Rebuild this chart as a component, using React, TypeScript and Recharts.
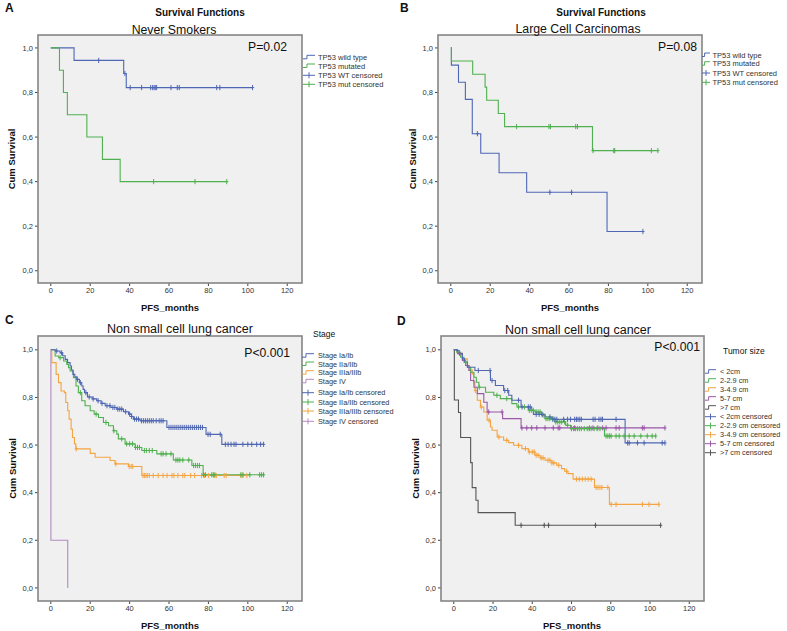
import React from 'react';
import { ComposedChart, Line, Scatter, XAxis, YAxis, CartesianGrid } from 'recharts';

type Pt = [number, number];

// ---------- Panel A: Never Smokers ----------
const aWildTypeSteps: Pt[] = [[0, 1], [11.8, 0.944], [37.0, 0.885], [38.3, 0.822], [102.4, 0.822]];
const aWildTypeCensored = [24.3, 37.6, 40.3, 46.1, 50.7, 51.7, 52.4, 53.0, 53.7, 61.0, 64.2, 65.2, 84.2, 85.8, 102.4];
const aMutatedSteps: Pt[] = [[0, 1], [4.4, 0.9], [6.4, 0.8], [8.4, 0.7], [18.3, 0.6], [26.2, 0.5], [35.2, 0.4], [89.3, 0.4]];
const aMutatedCensored = [52.2, 73.2, 89.3];

// ---------- Panel B: Large Cell Carcinomas ----------
const bWildTypeSteps: Pt[] = [[0, 1], [0.3, 0.923], [3.9, 0.846], [7.4, 0.769], [10.9, 0.615], [15.2, 0.527], [24.5, 0.44], [38.5, 0.352], [79.3, 0.176], [97.5, 0.176]];
const bWildTypeCensored = [13.5, 50.3, 61.3, 97.5];
const bMutatedSteps: Pt[] = [[0, 1], [0.3, 0.941], [11.1, 0.882], [17.4, 0.824], [18.2, 0.765], [24.1, 0.706], [27.3, 0.647], [71.9, 0.539], [105.1, 0.539]];
const bMutatedCensored = [33.4, 49.8, 50.6, 63.4, 64.3, 72.2, 82.7, 83.2, 101.8, 105.1];

// ---------- Panel C: NSCLC by stage ----------
const cStage1Steps: Pt[] = [[0, 1], [2.2, 0.995], [4.7, 0.987], [6, 0.975], [7.3, 0.96], [8.5, 0.946], [9.8, 0.932], [10.5, 0.915], [11.2, 0.897], [12.2, 0.887], [13.2, 0.876], [14.5, 0.862], [15.7, 0.848], [16.4, 0.834], [17.1, 0.82], [18.6, 0.802], [21, 0.794], [23.3, 0.786], [25.5, 0.775], [27.6, 0.765], [30.5, 0.758], [33.5, 0.751], [36.9, 0.74], [39.4, 0.73], [41, 0.72], [41.9, 0.709], [45.3, 0.702], [58.9, 0.674], [78.8, 0.645], [86.8, 0.603], [108, 0.603]];
const cStage1Censored = [3, 5.5, 13.5, 15, 17.8, 19.5, 21.5, 24, 26, 28.5, 30, 31.5, 32.5, 34, 35, 36, 38, 40, 41, 42.5, 43.5, 44.5, 46, 47, 48, 49, 50, 51, 52, 53.5, 55, 56, 57, 60, 61, 62, 63, 64, 65, 66, 67, 68, 69, 70, 71, 72, 73, 74, 75, 76, 77, 79.8, 80.9, 86, 88.6, 90, 91.5, 93, 94, 97.5, 100, 102, 104.5, 106.5, 108];
const cStage2Steps: Pt[] = [[0, 1], [2.2, 0.974], [4, 0.967], [6.5, 0.953], [8.1, 0.939], [9, 0.925], [9.8, 0.911], [11.5, 0.883], [12.8, 0.848], [14, 0.82], [15.7, 0.786], [17.4, 0.765], [20, 0.744], [22, 0.73], [24.2, 0.716], [26.7, 0.695], [29.3, 0.681], [31.8, 0.66], [33.5, 0.646], [34.3, 0.626], [37.7, 0.605], [42.8, 0.59], [46.2, 0.577], [53.8, 0.563], [62.2, 0.537], [71.6, 0.514], [77.3, 0.475], [108, 0.475]];
const cStage2Censored = [4.7, 15, 23, 28, 32, 36, 38.5, 40, 41.5, 43, 44, 45, 47.5, 48.5, 50, 51.5, 56, 57, 58.5, 61, 63.5, 64.5, 65.5, 67, 70, 72.5, 73.5, 74.5, 75.5, 77.5, 78.5, 81.7, 82.5, 83.3, 96.5, 97.5, 101, 106, 107, 108];
const cStage3Steps: Pt[] = [[0, 1], [0.5, 0.946], [2.7, 0.897], [3.9, 0.862], [5.2, 0.827], [6.9, 0.82], [7.6, 0.779], [8.6, 0.744], [9.3, 0.709], [10.3, 0.667], [11, 0.632], [12, 0.605], [12.7, 0.584], [20, 0.565], [22.5, 0.549], [30.1, 0.535], [32.6, 0.521], [39.4, 0.51], [46.2, 0.472], [99.5, 0.472]];
const cStage3Censored = [12.9, 33, 39.8, 40.8, 41.6, 46.8, 47.5, 48.3, 49, 50, 52, 54.5, 57, 59, 61.5, 62.5, 64.5, 67, 68, 71, 73, 76.5, 78, 80, 83, 84, 88, 89, 96.5, 97.5, 99.5];
const cStage4Steps: Pt[] = [[0, 1], [0.05, 0.2], [8.6, 0]];
const cStage4Censored: number[] = [];

// ---------- Panel D: NSCLC by tumor size ----------
const dLt2Steps: Pt[] = [[0, 1], [1.5, 0.997], [2.7, 0.983], [4.4, 0.962], [5.5, 0.948], [6.9, 0.927], [10.8, 0.913], [18.7, 0.871], [21.2, 0.85], [25.4, 0.829], [28, 0.809], [29.6, 0.788], [34.3, 0.76], [39.7, 0.746], [40.6, 0.729], [46.5, 0.718], [50, 0.708], [87.3, 0.609], [107.6, 0.609]];
const dLt2Censored = [12.5, 18.5, 19.5, 26, 27.5, 33, 34.8, 38, 39, 42, 43.5, 45, 49, 50.5, 51.5, 52.5, 56, 58, 59.5, 61.6, 62.5, 63.3, 64.2, 65, 71, 72, 74, 75, 75.8, 82.7, 88.6, 89.4, 93.6, 97, 106.2, 107.6];
const d2to3Steps: Pt[] = [[0, 1], [1.5, 0.99], [3.5, 0.969], [5.2, 0.948], [7, 0.927], [8.6, 0.906], [10.3, 0.885], [11.5, 0.864], [12.8, 0.843], [16.2, 0.822], [20.4, 0.809], [23.7, 0.795], [29.6, 0.774], [32.2, 0.76], [38, 0.746], [41.4, 0.739], [44.8, 0.725], [46.5, 0.711], [51.5, 0.697], [57, 0.683], [59.5, 0.669], [76.8, 0.638], [102.9, 0.638]];
const d2to3Censored = [6, 13, 22, 27, 33, 36, 38.5, 39.5, 40.5, 42, 43, 44, 45.5, 47, 48, 49, 50.5, 52, 53, 54, 55, 56.5, 58, 60, 61, 62, 63, 64, 65, 66.5, 68, 69, 70, 71.5, 73, 74.5, 77.6, 78.5, 79.4, 80.2, 82.7, 84.3, 86.8, 89.4, 91.9, 95.3, 98.6, 101.1, 102.9];
const d3to5Steps: Pt[] = [[0, 1], [1.9, 0.983], [4.4, 0.962], [6.9, 0.934], [8, 0.916], [9.4, 0.899], [10.1, 0.864], [10.8, 0.829], [12, 0.788], [13.6, 0.76], [15.3, 0.739], [17, 0.704], [18.7, 0.676], [19.5, 0.662], [22.1, 0.634], [25.4, 0.62], [28, 0.61], [30.5, 0.599], [34.7, 0.585], [38, 0.571], [41.4, 0.557], [44, 0.546], [46.5, 0.536], [50, 0.525], [52.4, 0.515], [54.9, 0.501], [56.5, 0.49], [58.2, 0.48], [60.8, 0.457], [71.7, 0.422], [79.3, 0.351], [104.5, 0.351]];
const d3to5Censored = [11, 14, 18, 23, 27, 33, 36.5, 38.5, 40, 41, 42, 43, 44.5, 45.5, 48, 49, 50, 51, 53.5, 57.5, 62.5, 64, 65.5, 67, 68.5, 70, 72.5, 73.5, 74.5, 75.5, 78.5, 80.2, 82.7, 96.1, 99.5, 104.5];
const d5to7Steps: Pt[] = [[0, 1], [2, 0.985], [4.4, 0.955], [6, 0.934], [7.7, 0.913], [8.6, 0.871], [10.3, 0.843], [12, 0.816], [15.3, 0.78], [17, 0.739], [24.9, 0.711], [34.3, 0.672], [107.6, 0.672]];
const d5to7Censored = [3, 17.8, 24.6, 34.7, 37.2, 39.7, 42.3, 46.5, 50.7, 53.2, 54, 59.9, 61.6, 69.2, 70.9, 73.4, 75.9, 77.6, 82.7, 84.3, 96.1, 97, 107.6];
const dGt7Steps: Pt[] = [[0, 1], [0.3, 0.789], [2.4, 0.737], [3.5, 0.632], [8.6, 0.526], [9.4, 0.421], [11.3, 0.368], [12.4, 0.316], [31.3, 0.263], [105.4, 0.263]];
const dGt7Censored = [34.3, 46.1, 48.3, 72.2, 105.4];

// ---------- Axes ----------
const xTicks = [0, 20, 40, 60, 80, 100, 120];
const yTicks = [0, 0.2, 0.4, 0.6, 0.8, 1.0];

// ---------- Legend labels ----------
const aLegendLabels = ['TP53 wild type', 'TP53 mutated', 'TP53 WT censored', 'TP53 mut censored'];
const cLegendLabels = ['Stage Ia/Ib', 'Stage IIa/IIb', 'Stage IIIa/IIIb', 'Stage IV', 'Stage Ia/Ib censored', 'Stage IIa/IIb censored', 'Stage IIIa/IIIb censored', 'Stage IV censored'];
const dLegendLabels = ['< 2cm', '2-2.9 cm', '3-4.9 cm', '5-7 cm', '>7 cm', '< 2cm censored', '2-2.9 cm censored', '3-4.9 cm censored', '5-7 cm censored', '>7 cm censored'];

const BLUE = '#4f67b3';
const GREEN = '#4fb04f';
const ORANGE = '#f4a441';
const PURPLE = '#9b57a8';
const LAVENDER = '#b489c0';
const GRAY = '#555555';
const FONT = '"Liberation Sans", Arial, sans-serif';

interface Series { name: string; color: string; steps: Pt[]; censored: number[] }

function survAt(steps: Pt[], t: number): number {
  let s = steps[0][1];
  for (const [ti, si] of steps) {
    if (ti <= t) s = si; else break;
  }
  return s;
}
const toRows = (steps: Pt[]) => steps.map(([t, s]) => ({ t, s }));
const censorRows = (steps: Pt[], times: number[]) => times.map((t) => ({ t, s: survAt(steps, t) }));
const fmt = (v: number) => v.toFixed(1).replace('.', ',');

const CensorMark = (props: any) => {
  const { cx, cy, color } = props;
  if (cx == null || cy == null) return null;
  return <path d={`M${cx - 1.6},${cy}H${cx + 1.6}M${cx},${cy - 2.6}V${cy + 2.6}`} stroke={color} strokeWidth={1} fill="none" />;
};

interface PanelProps {
  left: number; top: number; width: number; height: number;
  margin: { top: number; right: number; bottom: number; left: number };
  yAxisWidth: number; series: Series[];
}

function KMPanel({ left, top, width, height, margin, yAxisWidth, series }: PanelProps) {
  return (
    <div style={{ position: 'absolute', left, top, width, height, fontFamily: FONT }}>
      <ComposedChart width={width} height={height} margin={margin}>
        <CartesianGrid fill="#f0f0f0" horizontal={false} vertical={false} stroke="none" />
        <XAxis dataKey="t" type="number" domain={[-6.5, 127.5]} ticks={xTicks} allowDataOverflow interval={0}
          axisLine={false} tickLine={{ stroke: '#444' }} tickSize={3} tickMargin={2}
          tick={{ fontSize: 7.5, fill: '#333' }} height={20} />
        <YAxis dataKey="s" type="number" domain={[-0.055, 1.058]} ticks={yTicks} allowDataOverflow interval={0}
          axisLine={false} tickLine={{ stroke: '#444' }} tickSize={3} tickMargin={2}
          tick={{ fontSize: 7.5, fill: '#333' }} width={yAxisWidth} tickFormatter={fmt} />
        {series.map((s) => (
          <Line key={s.name} name={s.name} data={toRows(s.steps)} dataKey="s" type="stepAfter" stroke={s.color}
            strokeWidth={1.1} dot={false} activeDot={false} isAnimationActive={false} />
        ))}
        {series.map((s) => (
          <Scatter key={s.name + '-c'} name={s.name + ' censored'} data={censorRows(s.steps, s.censored)} dataKey="s"
            shape={(p: any) => <CensorMark {...p} color={s.color} />} isAnimationActive={false} />
        ))}
      </ComposedChart>
    </div>
  );
}

const seriesA: Series[] = [
  { name: 'wt', color: BLUE, steps: aWildTypeSteps, censored: aWildTypeCensored },
  { name: 'mut', color: GREEN, steps: aMutatedSteps, censored: aMutatedCensored },
];
const seriesB: Series[] = [
  { name: 'wt', color: BLUE, steps: bWildTypeSteps, censored: bWildTypeCensored },
  { name: 'mut', color: GREEN, steps: bMutatedSteps, censored: bMutatedCensored },
];
const seriesC: Series[] = [
  { name: 's4', color: LAVENDER, steps: cStage4Steps, censored: cStage4Censored },
  { name: 's3', color: ORANGE, steps: cStage3Steps, censored: cStage3Censored },
  { name: 's2', color: GREEN, steps: cStage2Steps, censored: cStage2Censored },
  { name: 's1', color: BLUE, steps: cStage1Steps, censored: cStage1Censored },
];
const seriesD: Series[] = [
  { name: 'gt7', color: GRAY, steps: dGt7Steps, censored: dGt7Censored },
  { name: '3to5', color: ORANGE, steps: d3to5Steps, censored: d3to5Censored },
  { name: '5to7', color: PURPLE, steps: d5to7Steps, censored: d5to7Censored },
  { name: '2to3', color: GREEN, steps: d2to3Steps, censored: d2to3Censored },
  { name: 'lt2', color: BLUE, steps: dLt2Steps, censored: dLt2Censored },
];

function LegendBlock({ x0, w, textX, ys, labels, colors, nLines, size }: { x0: number; w: number; textX: number; ys: number[]; labels: string[]; colors: string[]; nLines: number; size: number }) {
  return (
    <g>
      {labels.map((lab, i) => {
        const y = ys[i];
        const c = colors[i];
        const isLine = i < nLines;
        const d = isLine
          ? `M${x0},${y + 1.5}H${x0 + w * 0.33}V${y - 2}H${x0 + w}`
          : `M${x0},${y}H${x0 + w}M${x0 + w / 2},${y - 3}V${y + 3}`;
        return (
          <g key={lab}>
            <path d={d} stroke={c} strokeWidth={1} fill="none" />
            <text x={textX} y={y} fontSize={size} fill="#333" dominantBaseline="central">{lab}</text>
          </g>
        );
      })}
    </g>
  );
}

const T = ({ x, y, size, bold, anchor, rotate, children }: any) => (
  <text x={x} y={y} fontSize={size} fontWeight={bold ? 'bold' : 'normal'} textAnchor={anchor || 'start'}
    dominantBaseline="central" fill="#111" transform={rotate ? `rotate(-90 ${x} ${y})` : undefined}>{children}</text>
);

export default function App() {
  return (
    <div style={{ position: 'absolute', left: 0, top: 0, width: 787, height: 631, background: '#fff', fontFamily: FONT, overflow: 'hidden' }}>
      <KMPanel left={0} top={0} width={390} height={315} margin={{ top: 35, right: 88, bottom: 12, left: 0 }} yAxisWidth={38} series={seriesA} />
      <KMPanel left={400} top={0} width={387} height={315} margin={{ top: 35, right: 85, bottom: 12, left: 0 }} yAxisWidth={38} series={seriesB} />
      <KMPanel left={0} top={315} width={390} height={316} margin={{ top: 21, right: 88, bottom: 10, left: 0 }} yAxisWidth={38} series={seriesC} />
      <KMPanel left={400} top={315} width={387} height={316} margin={{ top: 21, right: 83, bottom: 10, left: 0 }} yAxisWidth={41} series={seriesD} />
      <svg width={787} height={631} style={{ position: 'absolute', left: 0, top: 0, pointerEvents: 'none', fontFamily: FONT }}>
        <rect x={38} y={35} width={264} height={248} fill="none" stroke="#858585" strokeWidth={1.6} />
        <rect x={438} y={35} width={264} height={248} fill="none" stroke="#858585" strokeWidth={1.6} />
        <rect x={38} y={336} width={264} height={265} fill="none" stroke="#858585" strokeWidth={1.6} />
        <rect x={441} y={336} width={263} height={265} fill="none" stroke="#858585" strokeWidth={1.6} />

        <T x={5} y={7.5} size={12} bold>A</T>
        <T x={200} y={12} size={10} bold anchor="middle">Survival Functions</T>
        <T x={174} y={29.7} size={12.3} anchor="middle">Never Smokers</T>
        <T x={287} y={47} size={12.2} anchor="end">P=0.02</T>
        <T x={170} y={307} size={9.5} bold anchor="middle">PFS_months</T>
        <T x={11.7} y={159} size={9.5} bold anchor="middle" rotate>Cum Survival</T>

        <T x={400} y={7.5} size={12} bold>B</T>
        <T x={601} y={12} size={10} bold anchor="middle">Survival Functions</T>
        <T x={578} y={29} size={12.3} anchor="middle">Large Cell Carcinomas</T>
        <T x={697} y={47} size={12.2} anchor="end">P=0.08</T>
        <T x={570} y={307} size={9.5} bold anchor="middle">PFS_months</T>
        <T x={412} y={159} size={9.5} bold anchor="middle" rotate>Cum Survival</T>

        <T x={5} y={320} size={12} bold>C</T>
        <T x={180} y={329} size={12.5} anchor="middle">Non small cell lung cancer</T>
        <T x={290} y={353} size={12.2} anchor="end">P&lt;0.001</T>
        <T x={170} y={625.5} size={9.5} bold anchor="middle">PFS_months</T>
        <T x={12} y={468.5} size={9.5} bold anchor="middle" rotate>Cum Survival</T>
        <T x={313} y={334} size={8.5}>Stage</T>

        <T x={397} y={321} size={12} bold>D</T>
        <T x={578} y={329.5} size={12.5} anchor="middle">Non small cell lung cancer</T>
        <T x={700} y={346.7} size={12.2} anchor="end">P&lt;0.001</T>
        <T x={572} y={625.5} size={9.5} bold anchor="middle">PFS_months</T>
        <T x={415.5} y={468.5} size={9.5} bold anchor="middle" rotate>Cum Survival</T>
        <T x={723} y={350.7} size={8.5}>Tumor size</T>

        <LegendBlock x0={303} w={12} textX={318} ys={[57.3, 66, 75.3, 84.3]} labels={aLegendLabels}
          colors={[BLUE, GREEN, BLUE, GREEN]} nLines={2} size={7.5} />
        <LegendBlock x0={702} w={8} textX={712.5} ys={[55, 63.7, 73, 82.3]} labels={aLegendLabels}
          colors={[BLUE, GREEN, BLUE, GREEN]} nLines={2} size={7.5} />
        <LegendBlock x0={302} w={12} textX={318} ys={[355.7, 364, 372.7, 381.3, 392.7, 402, 411, 421.3]} labels={cLegendLabels}
          colors={[BLUE, GREEN, ORANGE, LAVENDER, BLUE, GREEN, ORANGE, LAVENDER]} nLines={4} size={7.3} />
        <LegendBlock x0={705} w={11} textX={720} ys={dLegendLabels.map((_, i) => 371.7 + 9 * i)} labels={dLegendLabels}
          colors={[BLUE, GREEN, ORANGE, PURPLE, GRAY, BLUE, GREEN, ORANGE, PURPLE, GRAY]} nLines={5} size={7.3} />
      </svg>
    </div>
  );
}
